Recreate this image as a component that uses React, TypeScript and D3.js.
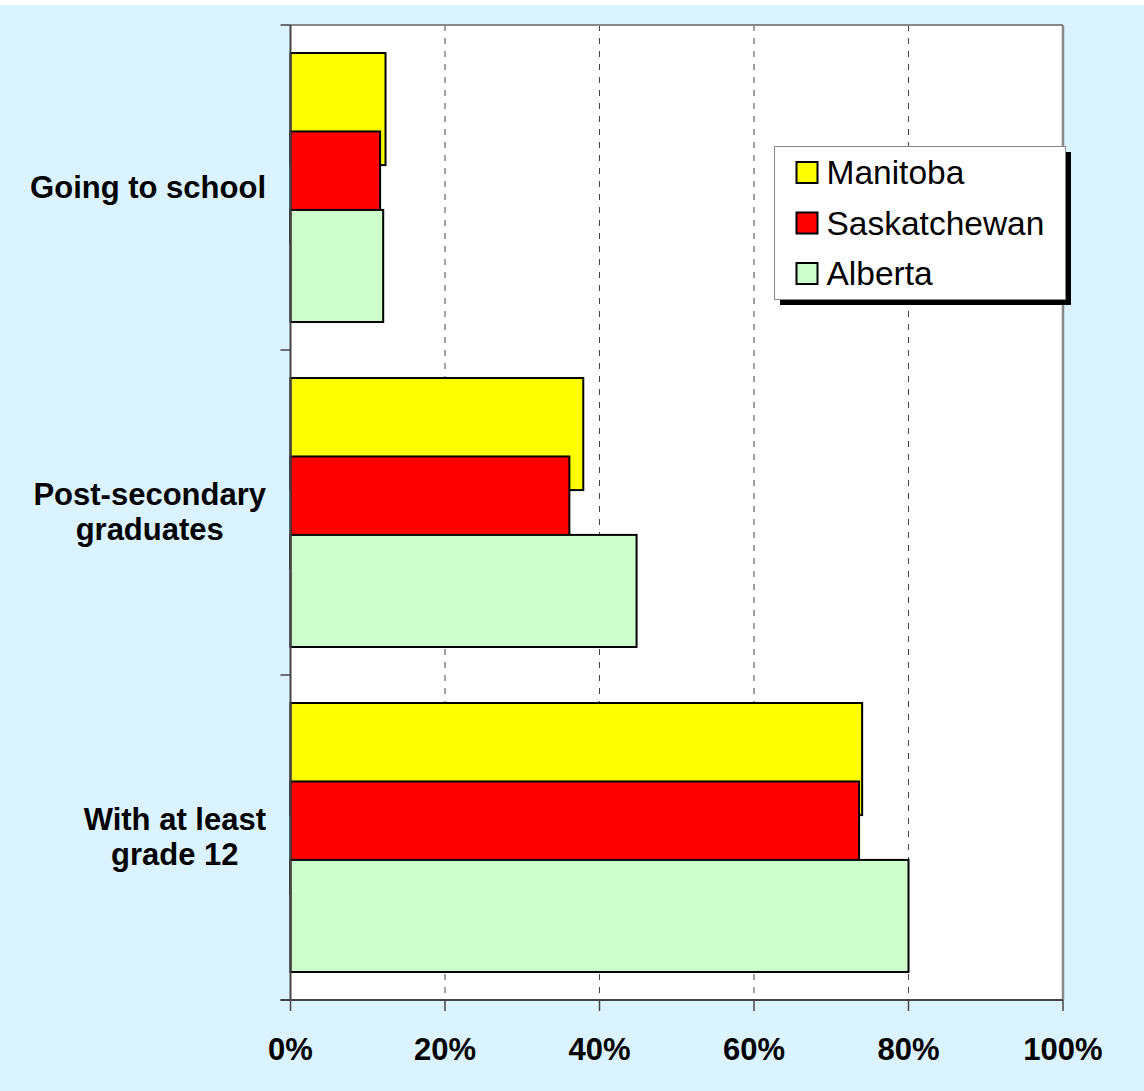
import React, { useMemo } from "react";
import * as d3 from "d3";

// Share of population by education status, three prairie provinces
const categories = ["Going to school", "Post-secondary graduates", "With at least grade 12"];
const categoryLines = [["Going to school"], ["Post-secondary", "graduates"], ["With at least", "grade 12"]];
const seriesNames = ["Manitoba", "Saskatchewan", "Alberta"];
const seriesColors = ["#FFFF00", "#FF0000", "#CCFFCC"];
const manitoba = [0.123, 0.379, 0.74];
const saskatchewan = [0.116, 0.361, 0.736];
const alberta = [0.12, 0.448, 0.80];
const seriesValues = [manitoba, saskatchewan, alberta];
const xTicks = [0, 0.2, 0.4, 0.6, 0.8, 1.0];

const W = 1144;
const H = 1091;
const FONT = "'Liberation Sans', Arial, Helvetica, sans-serif";
const plot = { left: 290.5, right: 1063, top: 25, bottom: 1000 };

function measure(text: string, font: string): number {
  if (typeof document === "undefined") return text.length * 15;
  const c = document.createElement("canvas");
  const ctx = c.getContext("2d");
  if (!ctx) return text.length * 15;
  ctx.font = font;
  return ctx.measureText(text).width;
}

export default function App() {
  const x = d3.scaleLinear().domain([0, 1]).range([plot.left, plot.right]);
  const y = d3.scaleBand<string>().domain(categories).range([plot.top, plot.bottom]);

  // Excel-style clustered bars: gap width 50%, overlap 30%
  const gapWidth = 0.5;
  const overlap = 0.3;
  const n = seriesNames.length;
  const barH = y.bandwidth() / (gapWidth + 1 + (n - 1) * (1 - overlap));
  const step = barH * (1 - overlap);
  const offset = (barH * gapWidth) / 2;

  const labelSize = 31;
  const labelFont = `bold ${labelSize}px ${FONT}`;
  const blocks = useMemo(
    () =>
      categoryLines.map((lines) => {
        const maxW = d3.max(lines, (l) => measure(l, labelFont)) || 0;
        return { lines, cx: 266 - maxW / 2 };
      }),
    []
  );

  const yTicks = [plot.top, ...categories.map((c) => (y(c) || 0) + y.bandwidth())];

  return (
    <svg
      width={W}
      height={H}
      style={{ position: "absolute", left: 0, top: 0, display: "block" }}
      fontFamily={FONT}
    >
      <rect x={0} y={0} width={W} height={H} fill="#ffffff" />
      <rect x={0} y={5} width={W} height={H - 5} fill="#DBF3FE" />
      <rect
        x={plot.left}
        y={plot.top}
        width={plot.right - plot.left}
        height={plot.bottom - plot.top}
        fill="#ffffff"
      />

      {/* dashed vertical gridlines */}
      {xTicks
        .filter((t) => t > 0 && t < 1)
        .map((t) => (
          <line
            key={`g${t}`}
            x1={x(t)}
            x2={x(t)}
            y1={plot.top}
            y2={plot.bottom}
            stroke="#444"
            strokeWidth={1}
            strokeDasharray="6,7"
          />
        ))}

      {/* plot frame (top and right) */}
      <line x1={plot.left} x2={plot.right} y1={plot.top} y2={plot.top} stroke="#888" strokeWidth={2} />
      <line x1={plot.right} x2={plot.right} y1={plot.top} y2={plot.bottom} stroke="#888" strokeWidth={2.5} />

      {/* bars */}
      {categories.map((c, ci) =>
        seriesValues.map((vals, si) => (
          <rect
            key={`${c}-${si}`}
            x={x(0)}
            y={(y(c) || 0) + offset + si * step}
            width={x(vals[ci]) - x(0)}
            height={barH}
            fill={seriesColors[si]}
            stroke="#000"
            strokeWidth={2}
          />
        ))
      )}

      {/* axes */}
      <line x1={plot.left} x2={plot.left} y1={plot.top} y2={plot.bottom} stroke="#444" strokeWidth={2} />
      <line x1={plot.left - 10} x2={plot.right} y1={plot.bottom} y2={plot.bottom} stroke="#444" strokeWidth={2} />
      {yTicks.map((t, i) => (
        <line key={`yt${i}`} x1={plot.left - 10} x2={plot.left} y1={t} y2={t} stroke="#444" strokeWidth={1.5} />
      ))}
      {xTicks.map((t) => (
        <g key={`xt${t}`}>
          <line x1={x(t)} x2={x(t)} y1={plot.bottom} y2={plot.bottom + 11} stroke="#444" strokeWidth={1.5} />
          <text
            x={x(t)}
            y={1059.5}
            textAnchor="middle"
            fontSize={31}
            fontWeight="bold"
            fill="#000"
          >
            {d3.format(".0%")(t)}
          </text>
        </g>
      ))}

      {/* category labels */}
      {categories.map((c, ci) => {
        const cy = (y(c) || 0) + y.bandwidth() / 2;
        const b = blocks[ci];
        const lh = 35;
        const first = cy + 10 - ((b.lines.length - 1) * lh) / 2 - (b.lines.length > 1 ? 0.5 : 0);
        return (
          <text key={c} textAnchor="middle" fontSize={labelSize} fontWeight="bold" fill="#000">
            {b.lines.map((l, li) => (
              <tspan key={li} x={b.cx} y={first + li * lh}>
                {l}
              </tspan>
            ))}
          </text>
        );
      })}

      {/* legend */}
      <rect x={780} y={152} width={291} height={153} fill="#000" />
      <rect x={774.5} y={146.5} width={291} height={153} fill="#fff" stroke="#888" strokeWidth={1} />
      {seriesNames.map((s, i) => {
        const cy = 172.5 + i * 50.5;
        return (
          <g key={s}>
            <rect x={796.5} y={cy - 10.5} width={21} height={21} fill={seriesColors[i]} stroke="#000" strokeWidth={2} />
            <text x={826.5} y={cy + 11.5} fontSize={33.5} fill="#000">
              {s}
            </text>
          </g>
        );
      })}
    </svg>
  );
}
